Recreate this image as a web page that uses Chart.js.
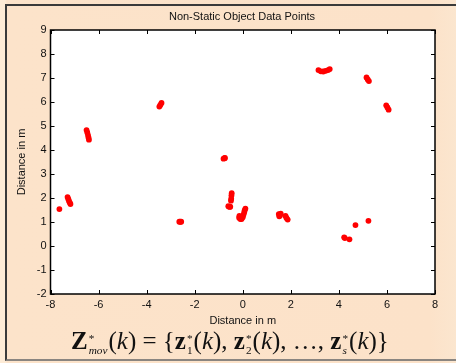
<!DOCTYPE html>
<html>
<head>
<meta charset="utf-8">
<script src="https://cdn.jsdelivr.net/npm/chart.js@4.4.0/dist/chart.umd.min.js"></script>
<style>
  html, body { margin: 0; padding: 0; }
  body {
    width: 456px; height: 363px; position: relative; overflow: hidden;
    background: linear-gradient(to right, #fdebd6 0px, #fdebd6 5px, #fce3ca 7px, #fce2c9 430px, #fbe6cf 456px);
    font-family: Arial, "Liberation Sans", sans-serif;
  }
  #frame {
    position: absolute; left: 5px; top: 4px; width: 460px; height: 357px;
    border-left: 2px solid #3a3a3a; border-top: 2px solid #3a3a3a; border-bottom: 2px solid #8a8580;
    box-sizing: border-box;
  }
  #chart { position: absolute; left: 0; top: 0; }
  #title {
    position: absolute; left: 0; width: 484px; top: 10px; text-align: center;
    font-size: 11px; color: #111;
  }
  #formula {
    position: absolute; left: 71px; top: 327px; white-space: nowrap; line-height: 28px;
    font-family: "Liberation Serif", "Times New Roman", serif; font-size: 25px; color: #111;
  }
  #formula .ss {
    display: inline-block; vertical-align: -0.4em; font-size: 0.45em;
    line-height: 1; margin: 0 1px 0 1px; text-align: left;
  }
  #formula .ss > span { display: block; }
  #formula i { font-style: italic; }
</style>
</head>
<body>
<div id="frame"></div>
<canvas id="chart" width="456" height="363"></canvas>
<div id="title">Non-Static Object Data Points</div>
<div id="formula"><b>Z</b><span class="ss"><span>*</span><span><i>mov</i></span></span>(<i>k</i>) = {<b>z</b><span class="ss"><span>*</span><span>1</span></span>(<i>k</i>), <b>z</b><span class="ss"><span>*</span><span>2</span></span>(<i>k</i>), &hellip;, <b>z</b><span class="ss"><span>*</span><span><i>s</i></span></span>(<i>k</i>)}</div>
<script>
// Object positions (m)
const pointX = [
  -7.63,
  -7.29, -7.26, -7.23, -7.2, -7.17,
  -2.64, -2.6, -2.56,
  -6.5, -6.47, -6.44, -6.42, -6.4,
  -3.47, -3.43, -3.38,
  -0.8, -0.76, -0.74,
  -0.46, -0.47, -0.48, -0.49,
  -0.6, -0.55, -0.52,
  -0.15, -0.1, -0.05, -0.14, 0, 0.03, 0.06, 0.08, 0.11,
  1.5, 1.55, 1.58, 1.52,
  1.78, 1.82, 1.87,
  3.15, 3.25, 3.35, 3.45, 3.55, 3.62,
  5.15, 5.2, 5.25,
  5.97, 6.02, 6.07,
  4.22, 4.25, 4.44, 4.69, 5.23
];
const pointY = [
  1.54,
  2.04, 1.96, 1.88, 1.81, 1.75,
  1.01, 1.01, 1.01,
  4.83, 4.73, 4.62, 4.52, 4.43,
  5.81, 5.88, 5.96,
  3.64, 3.66, 3.67,
  2.2, 2.1, 1.97, 1.89,
  1.66, 1.63, 1.64,
  1.18, 1.12, 1.12, 1.25, 1.2, 1.3, 1.4, 1.48, 1.56,
  1.33, 1.27, 1.35, 1.24,
  1.25, 1.17, 1.1,
  7.33, 7.28, 7.27, 7.3, 7.33, 7.37,
  7.02, 6.94, 6.87,
  5.86, 5.77, 5.68,
  0.36, 0.33, 0.28, 0.87, 1.05
];
const xTicks = [-8, -6, -4, -2, 0, 2, 4, 6, 8];
const yTicks = [-2, -1, 0, 1, 2, 3, 4, 5, 6, 7, 8, 9];

const points = pointX.map((x, i) => ({ x: x, y: pointY[i] }));

// box + inward ticks like matlab
const boxTicks = {
  id: 'boxTicks',
  afterDraw(chart) {
    const { ctx, chartArea: a, scales: { x, y } } = chart;
    const len = 4;
    ctx.save();
    ctx.strokeStyle = '#000';
    ctx.lineWidth = 1;
    ctx.beginPath();
    xTicks.forEach(v => {
      const px = Math.round(x.getPixelForValue(v)) + 0.5;
      ctx.moveTo(px, a.bottom); ctx.lineTo(px, a.bottom - len);
      ctx.moveTo(px, a.top); ctx.lineTo(px, a.top + len);
    });
    yTicks.forEach(v => {
      const py = Math.round(y.getPixelForValue(v)) + 0.5;
      ctx.moveTo(a.left, py); ctx.lineTo(a.left + len, py);
      ctx.moveTo(a.right, py); ctx.lineTo(a.right - len, py);
    });
    ctx.stroke();
    ctx.lineWidth = 1.5;
    ctx.strokeRect(a.left, a.top, a.right - a.left, a.bottom - a.top);
    ctx.restore();
  }
};

const whiteArea = {
  id: 'whiteArea',
  beforeDraw(chart) {
    const { ctx, chartArea: a } = chart;
    ctx.save();
    ctx.fillStyle = '#fff';
    ctx.fillRect(a.left, a.top, a.right - a.left, a.bottom - a.top);
    ctx.restore();
  }
};

new Chart(document.getElementById('chart').getContext('2d'), {
  type: 'scatter',
  data: {
    datasets: [{
      label: 'Objects',
      data: points,
      backgroundColor: '#ff0000',
      borderWidth: 0,
      pointRadius: 2.9,
      pointHoverRadius: 2.9
    }]
  },
  options: {
    responsive: false,
    animation: false,
    layout: { padding: { left: 0, right: 21, top: 30, bottom: 0 } },
    plugins: {
      legend: { display: false },
      tooltip: { enabled: false },
      title: { display: false }
    },
    scales: {
      x: {
        type: 'linear', min: -8, max: 8,
        afterFit: s => { s.height = 69; },
        afterBuildTicks: s => { s.ticks = xTicks.map(v => ({ value: v })); },
        grid: { display: false, drawTicks: false },
        border: { display: false },
        ticks: { color: '#111', padding: 4, font: { family: 'Arial', size: 11 } },
        title: { display: true, text: 'Distance in m', color: '#111', font: { family: 'Arial', size: 11 }, padding: { top: 0, bottom: 35.4 } }
      },
      y: {
        type: 'linear', min: -2, max: 9,
        afterFit: s => { s.width = 50.5; },
        afterBuildTicks: s => { s.ticks = yTicks.map(v => ({ value: v })); },
        grid: { display: false, drawTicks: false },
        border: { display: false },
        ticks: { color: '#111', padding: 4, font: { family: 'Arial', size: 11 } },
        title: { display: true, text: 'Distance in m', color: '#111', font: { family: 'Arial', size: 11 }, padding: { top: 15.4, bottom: 0 } }
      }
    }
  },
  plugins: [whiteArea, boxTicks]
});
</script>
</body>
</html>
